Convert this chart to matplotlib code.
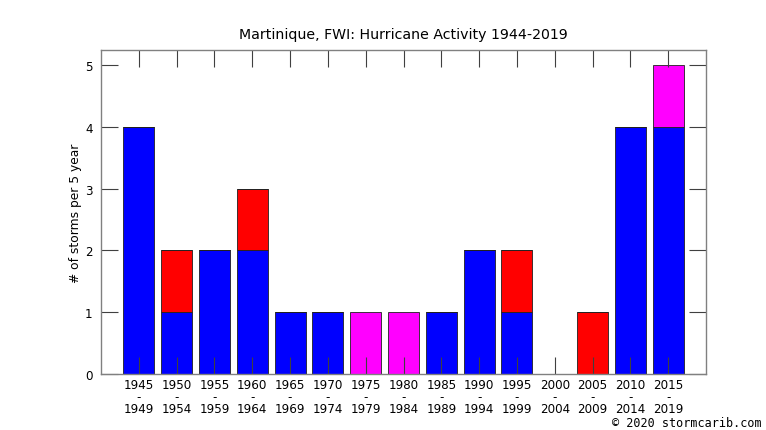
import numpy as np
import matplotlib
matplotlib.use("Agg")
import matplotlib.pyplot as plt

starts = [1945, 1950, 1955, 1960, 1965, 1970, 1975, 1980, 1985, 1990, 1995, 2000, 2005, 2010, 2015]
ends = [1949, 1954, 1959, 1964, 1969, 1974, 1979, 1984, 1989, 1994, 1999, 2004, 2009, 2014, 2019]
blue = [4, 1, 2, 2, 1, 1, 0, 0, 1, 2, 1, 0, 0, 4, 4]
red = [0, 1, 0, 1, 0, 0, 0, 0, 0, 0, 1, 0, 1, 0, 0]
magenta = [0, 0, 0, 0, 0, 0, 1, 1, 0, 0, 0, 0, 0, 0, 1]

labels = [f"{a}\n-\n{b}" for a, b in zip(starts, ends)]
x = np.arange(len(starts))
blue = np.array(blue)
red = np.array(red)
magenta = np.array(magenta)

fig = plt.figure(figsize=(7.66, 4.31), dpi=100)
ax = fig.add_axes([101 / 766, 1 - 375 / 431, 605 / 766, 324 / 431])

w = 0.82
ax.bar(x, blue, w, color="#0000ff", edgecolor="#202020", linewidth=0.6)
ax.bar(x, red, w, bottom=blue, color="#ff0000", edgecolor="#202020", linewidth=0.6)
ax.bar(x, magenta, w, bottom=blue + red, color="#ff00ff", edgecolor="#202020", linewidth=0.6)

ax.set_xlim(-1, len(starts))
ax.set_ylim(0, 5.24)
ax.set_xticks(x)
ax.set_xticklabels(labels, fontsize=8.6, linespacing=0.88)
ax.set_yticks(range(6))
ax.tick_params(axis="both", direction="in", length=12, width=0.8, color="#404040",
               top=True, right=True, labelsize=8.6)
ax.tick_params(axis="x", pad=3)
ax.tick_params(axis="y", pad=6)
for s in ax.spines.values():
    s.set_color("#808080")
    s.set_linewidth(1.0)

ax.set_ylabel("# of storms per 5 year", fontsize=8.8, labelpad=2)
ax.set_title("Martinique, FWI: Hurricane Activity 1944-2019", fontsize=10.2, pad=9)

fig.text(762 / 766, 1 - 424 / 431, "\u00a9 2020 stormcarib.com", ha="right", va="center",
         fontsize=8.5, family="DejaVu Sans Mono")

fig.savefig("out.png", dpi=100)
